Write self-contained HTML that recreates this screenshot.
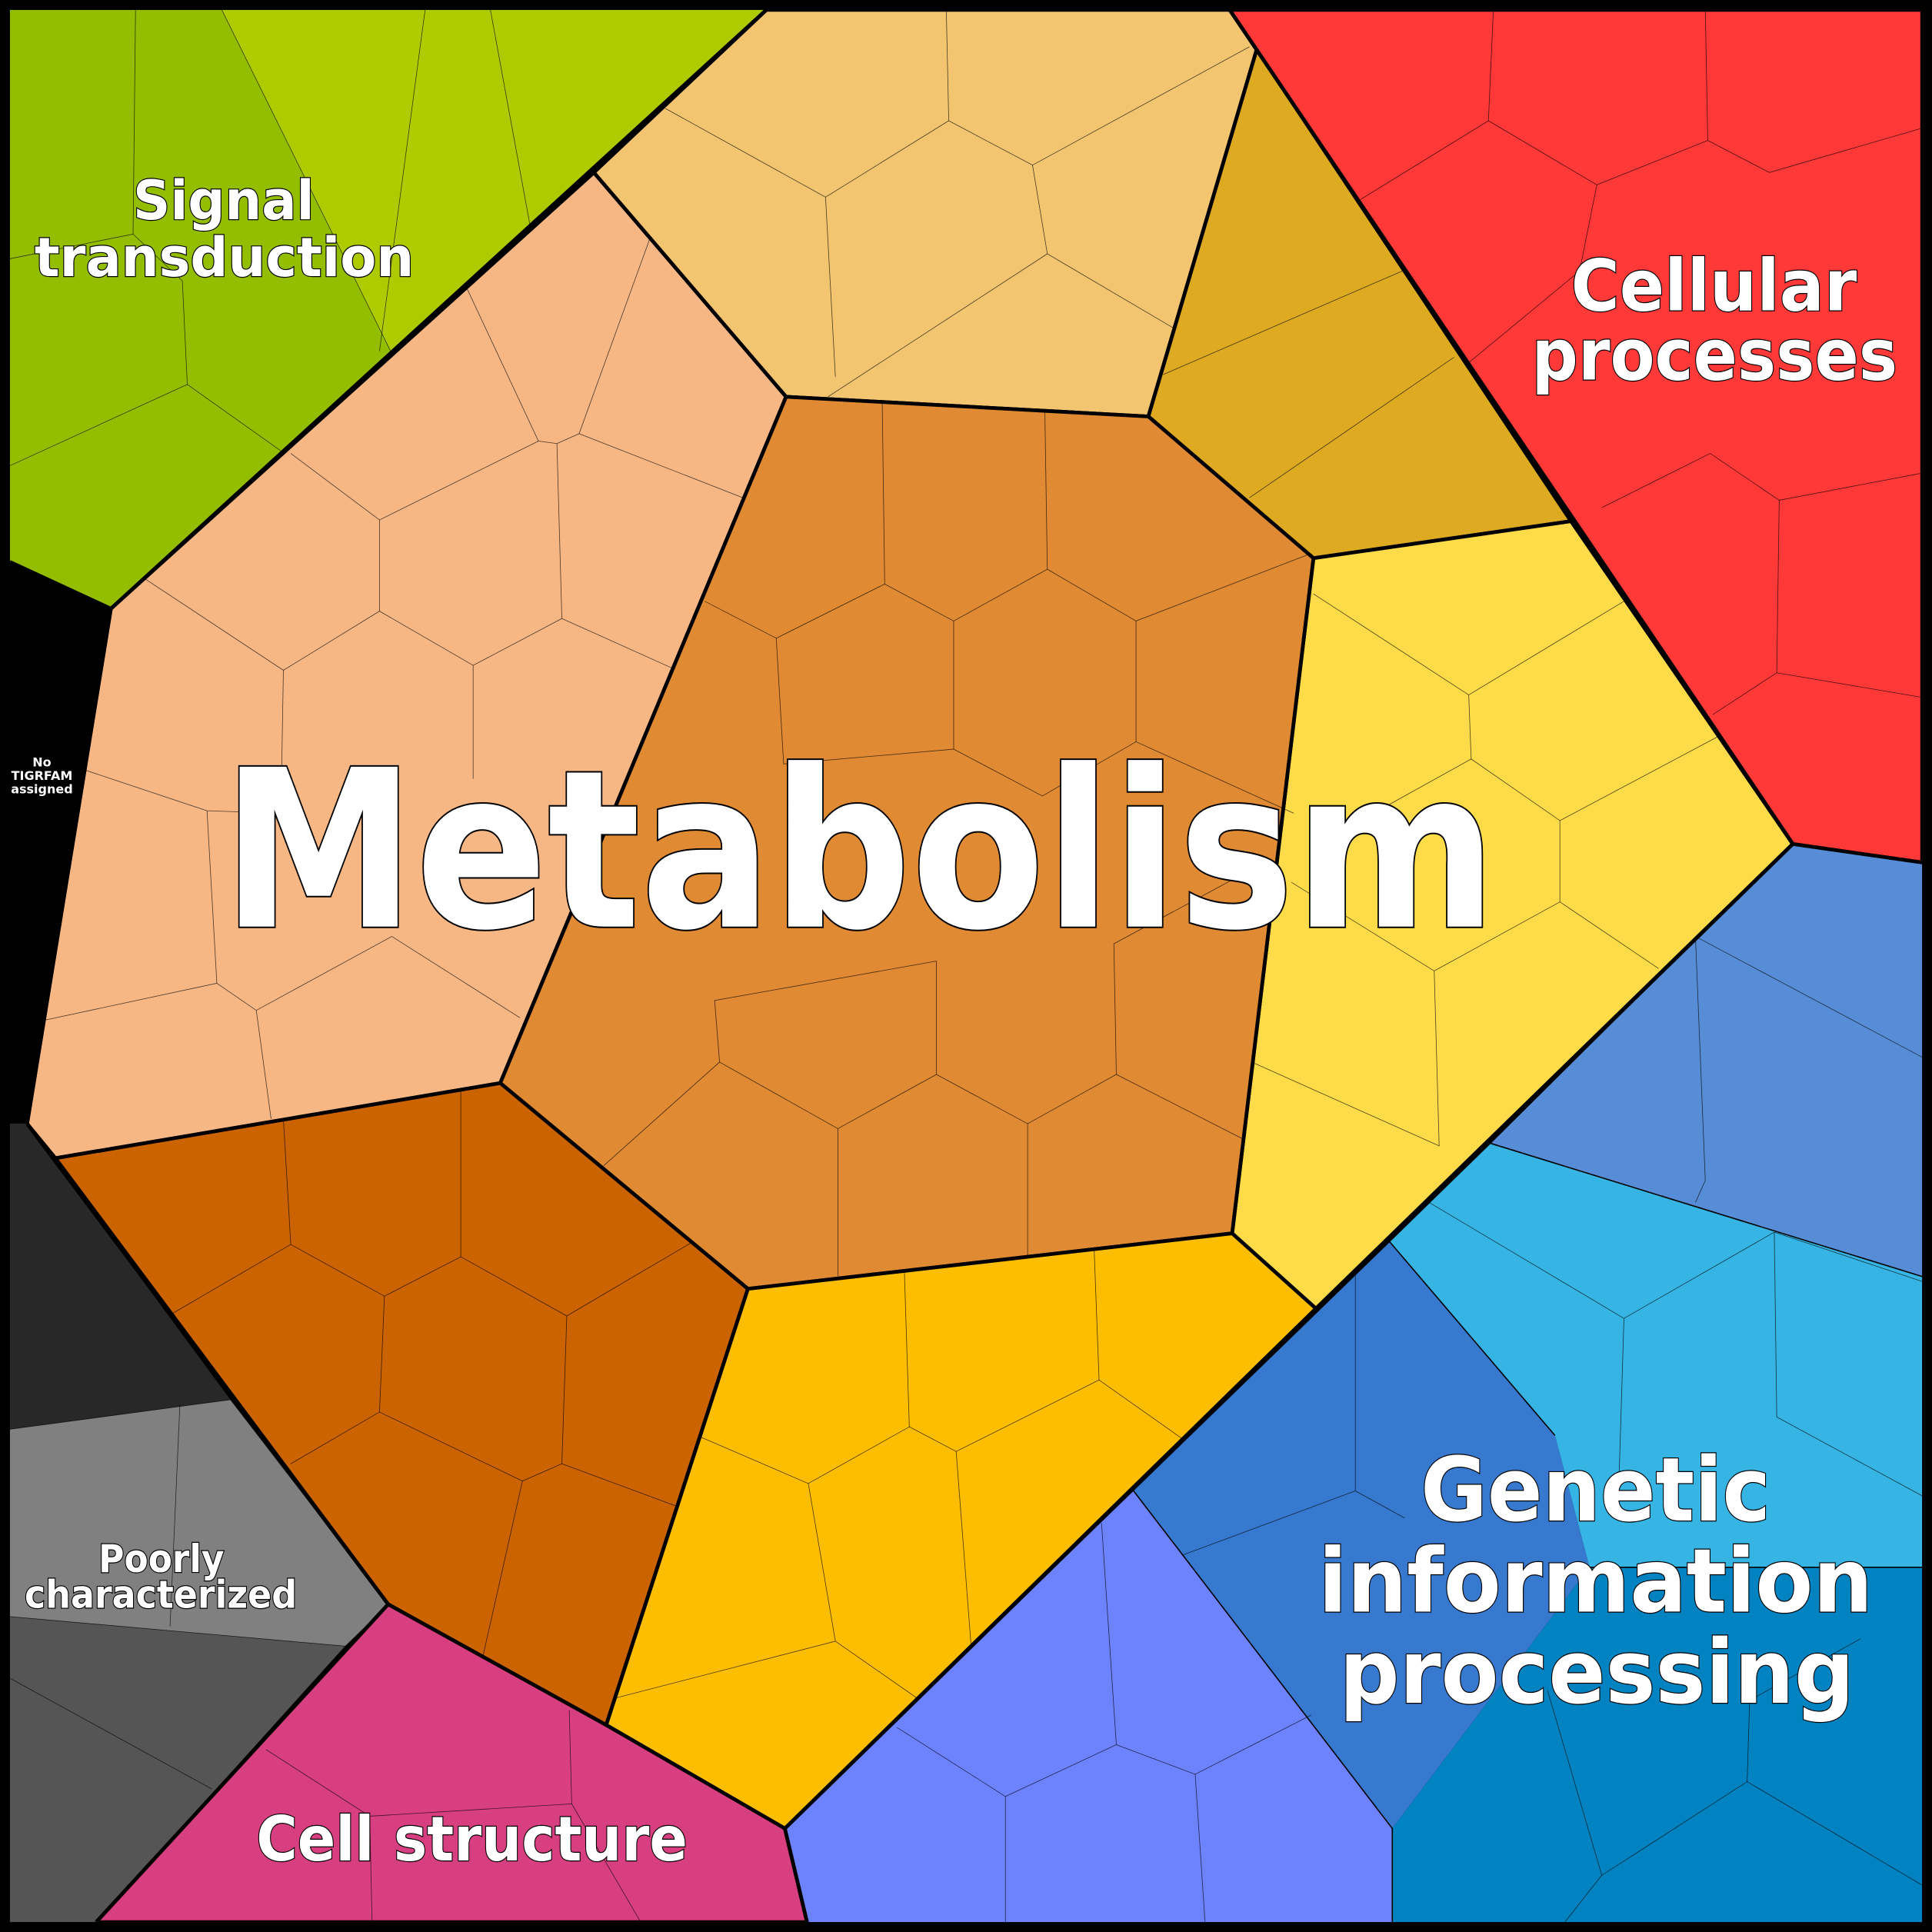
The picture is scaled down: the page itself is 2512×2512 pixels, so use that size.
<!DOCTYPE html>
<html><head><meta charset="utf-8"><style>
html,body{margin:0;padding:0;background:#000;}
svg{display:block;}
text{font-family:"DejaVu Sans","Liberation Sans",sans-serif;font-weight:bold;fill:#fff;stroke:#000;stroke-width:1.5;paint-order:stroke;}
.t{fill:none;stroke:#000;stroke-width:0.5;opacity:0.7}
.k{stroke:#000;stroke-width:3;stroke-linejoin:round}
</style></head><body>
<svg width="2512" height="2512" viewBox="0 0 1568 1568" xmlns="http://www.w3.org/2000/svg">
<rect x="0" y="0" width="1568" height="1568" fill="#000"/>
<!-- green -->
<polygon points="8,8 622,8 90,494 8,456" fill="#93BE00"/>
<polygon points="180,8 622,8 317,285" fill="#AECB00"/>
<polyline class="t" points="180,8 317,285"/>
<polyline class="t" points="110,8 108,190 8,210"/>
<polyline class="t" points="108,190 148,228 152,312 8,378"/>
<polyline class="t" points="152,312 228,366"/>
<polyline class="t" points="345,8 308,285"/>
<polyline class="t" points="398,8 430,182"/>
<!-- black -->
<polygon points="8,456 90,494 22,912 8,912" fill="#000"/>
<!-- salmon -->
<polygon class="k" points="90,494 482,140 638,322 406,879 45,940 22,912" fill="#F6B785"/>
<polyline class="t" points="528,192 470,352 452,360 437,358 378,232"/>
<polyline class="t" points="470,352 603,404"/>
<polyline class="t" points="437,358 308,422 236,368"/>
<polyline class="t" points="452,360 456,502 545,542"/>
<polyline class="t" points="308,422 308,496 230,544 118,470"/>
<polyline class="t" points="308,496 384,540 456,502"/>
<polyline class="t" points="230,544 228,660 168,658 42,616"/>
<polyline class="t" points="384,540 384,632"/>
<polyline class="t" points="168,658 176,798 36,828"/>
<polyline class="t" points="176,798 208,820 220,908"/>
<polyline class="t" points="208,820 318,760 422,826"/>
<!-- tan -->
<polygon class="k" points="482,140 622,8 998,8 1020,40 932,338 638,322" fill="#F3C571"/>
<polyline class="t" points="540,88 670,160 678,306"/>
<polyline class="t" points="670,160 770,98 768,8"/>
<polyline class="t" points="770,98 838,134 850,206 952,266"/>
<polyline class="t" points="838,134 1014,38"/>
<polyline class="t" points="850,206 672,322"/>
<!-- gold -->
<polygon class="k" points="1020,40 1275,423 1066,453 932,338" fill="#DDAA22"/>
<polyline class="t" points="944,304 1138,220"/>
<polyline class="t" points="1014,404 1180,290"/>
<!-- red -->
<polygon class="k" points="998,8 1560,8 1560,700 1455,685" fill="#FF3838"/>
<polyline class="t" points="1212,8 1208,98 1104,162"/>
<polyline class="t" points="1208,98 1296,150 1386,114 1384,8"/>
<polyline class="t" points="1386,114 1436,140 1560,104"/>
<polyline class="t" points="1296,150 1282,220 1190,296"/>
<polyline class="t" points="1388,368 1444,406 1560,384"/>
<polyline class="t" points="1388,368 1300,412"/>
<polyline class="t" points="1444,406 1442,546 1390,580"/>
<polyline class="t" points="1442,546 1560,566"/>
<!-- yellow -->
<polygon class="k" points="1066,453 1275,423 1455,685 1068,1062 1000,1001" fill="#FDDB49"/>
<polyline class="t" points="1066,482 1192,564 1318,488"/>
<polyline class="t" points="1192,564 1194,616 1266,666 1394,598"/>
<polyline class="t" points="1194,616 1104,666"/>
<polyline class="t" points="1266,666 1266,732 1346,786"/>
<polyline class="t" points="1266,732 1164,788 1168,930 1016,862"/>
<polyline class="t" points="1164,788 1048,716"/>
<!-- center orange -->
<polygon class="k" points="638,322 932,338 1066,453 1000,1001 607,1046 406,879" fill="#E08A33"/>
<polyline class="t" points="716,326 718,474 630,518 572,488"/>
<polyline class="t" points="718,474 774,504 850,462 848,334"/>
<polyline class="t" points="850,462 922,504 1062,450"/>
<polyline class="t" points="774,504 774,608 846,646 922,602 922,504"/>
<polyline class="t" points="630,518 636,620 774,608"/>
<polyline class="t" points="922,602 1050,660"/>
<polyline class="t" points="760,780 580,812 584,862 490,946"/>
<polyline class="t" points="584,862 680,916 760,872 834,912 906,872 1008,924"/>
<polyline class="t" points="760,780 760,872"/>
<polyline class="t" points="680,916 680,1036"/>
<polyline class="t" points="834,912 834,1020"/>
<polyline class="t" points="906,872 904,766 1026,700"/>
<!-- dark orange -->
<polygon class="k" points="45,940 406,879 607,1046 492,1400 315,1302" fill="#CB6300"/>
<polyline class="t" points="230,908 236,1010 140,1066"/>
<polyline class="t" points="236,1010 312,1052 374,1020 374,884"/>
<polyline class="t" points="374,1020 460,1068 562,1008"/>
<polyline class="t" points="312,1052 308,1146 236,1188"/>
<polyline class="t" points="308,1146 424,1202 456,1188 460,1068"/>
<polyline class="t" points="456,1188 548,1222"/>
<polyline class="t" points="424,1202 392,1344"/>
<!-- amber -->
<polygon class="k" points="607,1046 1000,1001 1068,1062 637,1484 492,1400" fill="#FDBD00"/>
<polyline class="t" points="734,1032 738,1158 656,1204 568,1166"/>
<polyline class="t" points="738,1158 776,1178 892,1120 888,1014"/>
<polyline class="t" points="892,1120 960,1168"/>
<polyline class="t" points="656,1204 678,1332 500,1378"/>
<polyline class="t" points="776,1178 788,1334"/>
<polyline class="t" points="678,1332 744,1378"/>
<!-- pink -->
<polygon class="k" points="315,1302 492,1400 637,1484 655,1560 78,1560" fill="#D83F80"/>
<polyline class="t" points="462,1388 464,1464 300,1474 216,1420"/>
<polyline class="t" points="300,1474 302,1560"/>
<polyline class="t" points="464,1464 520,1560"/>
<!-- greys -->
<polygon points="8,912 22,912 187,1136 8,1160" fill="#282828"/>
<polygon points="8,1160 187,1136 315,1302 280,1336 8,1312" fill="#808080"/>
<polygon points="8,1312 280,1336 78,1560 8,1560" fill="#555555"/>
<polyline class="t" points="8,1160 187,1136 315,1302"/>
<polyline class="t" points="8,1312 280,1336"/>
<polyline class="t" points="146,1140 138,1320"/>
<polyline class="t" points="8,1362 172,1452"/>
<polyline class="k" points="22,912 315,1302 78,1560" fill="none"/>
<!-- blues -->
<polygon points="1455,685 1560,700 1560,1036 1210,928" fill="#568DD6"/>
<polygon points="1210,928 1560,1036 1560,1272 1290,1272 1262,1165 1128,1008" fill="#36B4E4"/>
<polygon points="1128,1008 1262,1165 1290,1272 1130,1484 920,1210" fill="#3779CE"/>
<polygon points="1130,1484 1290,1272 1560,1272 1560,1560 1130,1560" fill="#0083C0"/>
<polygon points="637,1484 920,1210 1130,1484 1130,1560 655,1560" fill="#6D83FD"/>
<polyline class="k" style="stroke-width:1" fill="none" points="1210,928 1560,1036"/>
<polyline class="k" style="stroke-width:1" fill="none" points="1128,1008 1262,1165"/>
<polyline class="k" style="stroke-width:1" fill="none" points="920,1210 1130,1484 1130,1560"/>
<polyline class="k" style="stroke-width:1" fill="none" points="1560,1272 1290,1272"/>
<polyline class="t" points="1376,760 1384,958 1376,976"/>
<polyline class="t" points="1376,760 1560,858"/>
<polyline class="t" points="1160,976 1318,1070 1440,1000 1560,1040"/>
<polyline class="t" points="1318,1070 1314,1200"/>
<polyline class="t" points="1440,1000 1442,1150 1560,1214"/>
<polyline class="t" points="1100,1030 1100,1210 960,1262"/>
<polyline class="t" points="1100,1210 1140,1232"/>
<polyline class="t" points="894,1236 906,1416 816,1458 728,1402"/>
<polyline class="t" points="906,1416 970,1440 1064,1392"/>
<polyline class="t" points="816,1458 816,1560"/>
<polyline class="t" points="970,1440 978,1560"/>
<polyline class="t" points="1256,1372 1300,1522 1418,1446 1420,1380 1510,1330"/>
<polyline class="t" points="1300,1522 1270,1560"/>
<polyline class="t" points="1418,1446 1560,1530"/>
<!-- main thick boundaries -->
<polyline class="k" fill="none" points="622,8 90,494 8,456"/>
<polyline class="k" fill="none" points="90,494 22,912"/>
<polyline class="k" fill="none" points="998,8 1455,685 1560,700"/>
<polyline class="k" fill="none" points="1455,685 637,1484 655,1560"/>
<rect x="4" y="4" width="1560" height="1560" fill="none" stroke="#000" stroke-width="8"/>
<!-- labels -->
<text x="108" y="178" font-size="44" textLength="147" lengthAdjust="spacingAndGlyphs">Signal</text>
<text x="28" y="224" font-size="44" textLength="308" lengthAdjust="spacingAndGlyphs">transduction</text>
<text x="1275" y="252" font-size="58" textLength="232" lengthAdjust="spacingAndGlyphs">Cellular</text>
<text x="1243" y="308" font-size="58" textLength="297" lengthAdjust="spacingAndGlyphs">processes</text>
<text x="180" y="752" font-size="178" style="stroke-width:2.5" textLength="1035" lengthAdjust="spacingAndGlyphs">Metabolism</text>
<text x="1153" y="1234" font-size="72" textLength="284" lengthAdjust="spacingAndGlyphs">Genetic</text>
<text x="1070" y="1308" font-size="72" textLength="450" lengthAdjust="spacingAndGlyphs">information</text>
<text x="1087" y="1382" font-size="72" textLength="418" lengthAdjust="spacingAndGlyphs">processing</text>
<text x="80" y="1276" font-size="31" textLength="102" lengthAdjust="spacingAndGlyphs">Poorly</text>
<text x="20" y="1305" font-size="31" textLength="221" lengthAdjust="spacingAndGlyphs">characterized</text>
<text x="208" y="1510" font-size="50" textLength="350" lengthAdjust="spacingAndGlyphs">Cell structure</text>
<text x="34" y="622" font-size="10" text-anchor="middle" style="stroke-width:0.5">No</text>
<text x="34" y="633" font-size="10" text-anchor="middle" style="stroke-width:0.5">TIGRFAM</text>
<text x="34" y="644" font-size="10" text-anchor="middle" style="stroke-width:0.5">assigned</text>
</svg>
</body></html>
